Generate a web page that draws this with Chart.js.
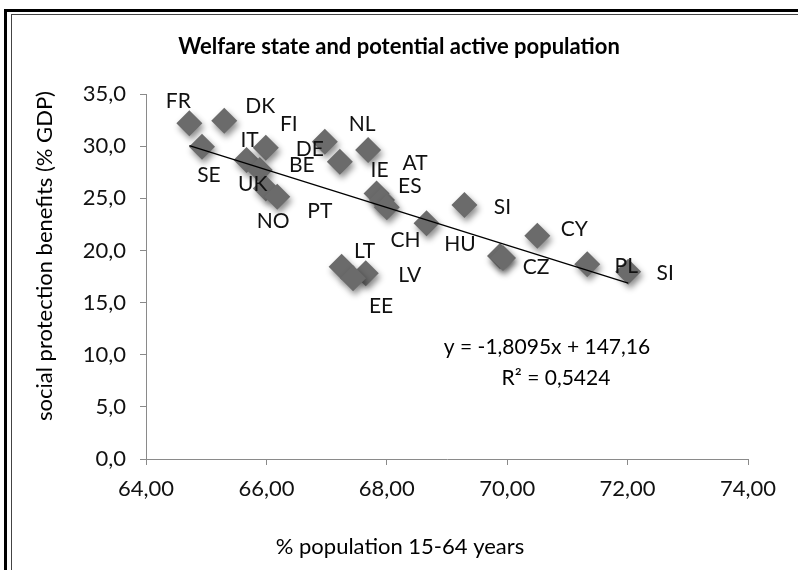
<!DOCTYPE html>
<html>
<head>
<meta charset="utf-8">
<script src="https://cdn.jsdelivr.net/npm/chart.js@4"></script>
<style>
  html, body { margin: 0; padding: 0; background: #fff; }
  #wrap { width: 798px; height: 570px; position: relative; }
</style>
</head>
<body>
<div id="wrap"><canvas id="chart" width="798" height="570"></canvas></div>
<script>
// länder och värden
const countries = ['FR', 'DK', 'SE', 'IT', 'FI', 'UK', 'PT', 'NO', 'DE', 'BE', 'NL', 'IE', 'AT', 'ES',
    'CH', 'SI', 'HU', 'CZ', 'CY', 'PL', 'SI', 'LT', 'LV', 'EE'];
const population1564 = [64.72, 65.30, 64.93, 65.67, 65.99, 65.89, 65.99, 66.18, 66.97, 67.22, 67.69, 67.83, 67.92, 68.00,
    68.66, 69.29, 69.88, 69.93, 70.50, 71.33, 72.01, 67.25, 67.65, 67.44];
const socialBenefits = [32.19, 32.44, 29.94, 28.67, 29.85, 27.71, 25.95, 25.15, 30.42, 28.50, 29.63, 25.47, 24.83, 24.13,
    22.60, 24.35, 19.46, 19.27, 21.41, 18.67, 17.96, 18.44, 17.80, 17.33];

// trendlinje som den står i diagrammet
const trendSlope = -1.8095;
const trendIntercept = 147.16;
const trendText = 'y = -1,8095x + 147,16';
const r2Text = 'R² = 0,5424';

// axlar
const xTicks = [64, 66, 68, 70, 72, 74];
const yTicks = [0, 5, 10, 15, 20, 25, 30, 35];

// etikettförskjutning i pixlar (dx, dy) från varje punkt
const labelOffsets = [[-11, -22], [36, -14], [7, 28], [3, -20], [23, -23], [-7, 14], [54, 23], [-4, 25],
    [-15, 7], [-38, 3], [-6, -26], [3, -23], [33, -37], [23, -21], [-21, 17], [38, 2], [-40, -12], [33, 9],
    [37, -6], [39, 2], [37, 2], [23, -15], [44, 2], [28, 28]];

const FONT = 'Lato, "Open Sans", sans-serif';

const points = population1564.map((x, i) => ({ x: x, y: socialBenefits[i] }));
const minX = Math.min(...population1564);
const maxX = Math.max(...population1564);
const trend = [minX, maxX].map(x => ({ x: x, y: trendSlope * x + trendIntercept }));

//skugga under romberna
const shadowPlugin = {
    id: 'shadow',
    beforeDatasetDraw(chart, args) {
        if (args.index !== 1) return;
        const ctx = chart.ctx;
        ctx.save();
        ctx.shadowColor = 'rgba(0,0,0,0.45)';
        ctx.shadowBlur = 6;
        ctx.shadowOffsetX = 2;
        ctx.shadowOffsetY = 4;
    },
    afterDatasetDraw(chart, args) {
        if (args.index !== 1) return;
        chart.ctx.restore();
    }
};

//texter: ram, rubrik, axeltitlar, etiketter, ekvation
const textPlugin = {
    id: 'texts',
    beforeDraw(chart) {
        const ctx = chart.ctx;
        ctx.save();
        ctx.fillStyle = '#fff';
        ctx.fillRect(0, 0, chart.width, chart.height);
        // ram upptill och till vänster
        ctx.fillStyle = '#000';
        ctx.fillRect(4, 9, chart.width - 4, 3);
        ctx.fillRect(4, 9, 3, chart.height - 9);
        ctx.fillStyle = '#444';
        ctx.fillRect(11, 14, chart.width - 11, 1);
        ctx.fillRect(11, 14, 1, chart.height - 14);
        ctx.restore();
    },
    afterDraw(chart) {
        const ctx = chart.ctx;
        const xs = chart.scales.x, ys = chart.scales.y;
        ctx.save();
        ctx.fillStyle = '#000';
        ctx.textAlign = 'center';
        ctx.textBaseline = 'middle';

        ctx.font = 'bold 22px ' + FONT;
        ctx.fillText('Welfare state and potential active population', 399, 47);

        ctx.font = '22px ' + FONT;
        ctx.fillText('% population 15-64 years', 400, 547);

        ctx.save();
        ctx.translate(45, 256);
        ctx.rotate(-Math.PI / 2);
        ctx.fillText('social protection benefits (% GDP)', 0, 0);
        ctx.restore();

        ctx.font = '21px ' + FONT;
        ctx.fillText(trendText, 547, 347);
        ctx.fillText(r2Text, 556, 378);

        ctx.fillStyle = '#111';
        ctx.font = '21px ' + FONT;
        countries.forEach((c, i) => {
            const px = xs.getPixelForValue(population1564[i]) + labelOffsets[i][0];
            const py = ys.getPixelForValue(socialBenefits[i]) + labelOffsets[i][1];
            ctx.fillText(c, px, py);
        });
        ctx.restore();
    }
};

new Chart(document.getElementById('chart'), {
    type: 'scatter',
    data: {
        datasets: [{
            type: 'line',
            data: trend,
            borderColor: '#000',
            borderWidth: 1.3,
            pointRadius: 0,
            fill: false,
            order: 0
        }, {
            data: points,
            pointStyle: 'rectRot',
            pointRadius: 13,
            backgroundColor: '#6b6b6b',
            borderColor: '#6b6b6b',
            borderWidth: 0,
            order: 1
        }]
    },
    options: {
        responsive: false,
        animation: false,
        layout: { padding: { left: 0, top: 94, right: 50, bottom: 0 } },
        plugins: {
            legend: { display: false },
            tooltip: { enabled: false },
            title: { display: false }
        },
        scales: {
            x: {
                type: 'linear',
                min: 64,
                max: 74,
                afterBuildTicks: scale => { scale.ticks = xTicks.map(v => ({ value: v })); },
                afterFit: scale => { scale.height = 111; },
                ticks: {
                    padding: 11,
                    color: '#111',
                    font: { family: FONT, size: 22 },
                    callback: v => v.toFixed(2).replace('.', ',')
                },
                grid: { drawOnChartArea: false, tickLength: 6, color: '#8a8a8a' },
                border: { color: '#8a8a8a', width: 1 }
            },
            y: {
                type: 'linear',
                min: 0,
                max: 35,
                afterBuildTicks: scale => { scale.ticks = yTicks.map(v => ({ value: v })); },
                afterFit: scale => { scale.width = 146; },
                ticks: {
                    padding: 14,
                    color: '#111',
                    font: { family: FONT, size: 22 },
                    callback: v => v.toFixed(1).replace('.', ',')
                },
                grid: { drawOnChartArea: false, tickLength: 6, color: '#8a8a8a' },
                border: { color: '#8a8a8a', width: 1 }
            }
        }
    },
    plugins: [shadowPlugin, textPlugin]
});
</script>
</body>
</html>
